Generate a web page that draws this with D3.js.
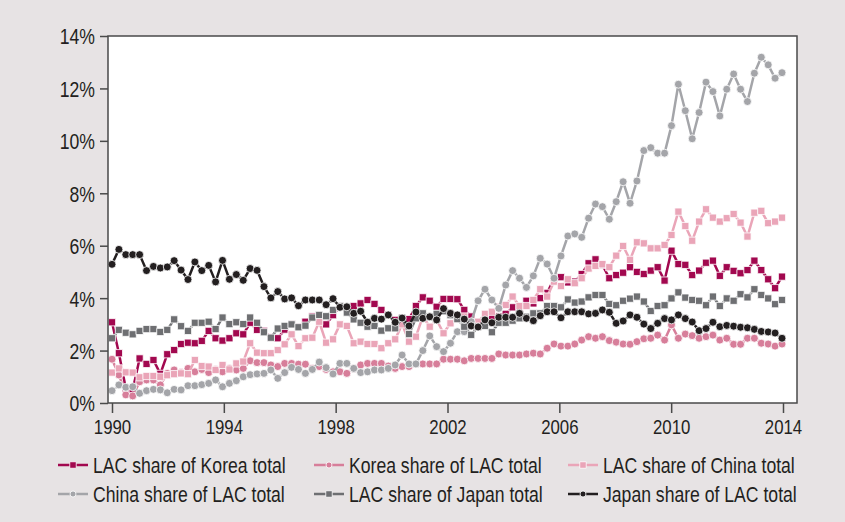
<!DOCTYPE html>
<meta charset="utf-8">
<title>LAC trade shares with Korea, China and Japan</title>
<script src="https://cdn.jsdelivr.net/npm/d3@7"></script>
<style>
  body { margin: 0; background: #e7e3e4; }
  svg text { font-family: 'Liberation Sans', Arial, sans-serif; fill: #231f20; }
</style>
<body>
<svg class=chart></svg>
<script>

var width = 845, height = 522;
var plotLeft = 108, plotRight = 797, plotTop = 36, plotBottom = 403;
var condense = 0.8; // the original uses a condensed face

// quarters, 1990Q1 .. 2014Q2
var quarters = [];
for (var yr = 1990; yr <= 2014; yr++) {
  for (var q = 1; q <= 4; q++) {
    if (yr == 2014 && q > 2) break;
    quarters.push(yr + "Q" + q);
  }
}

var yearTicks = [1990, 1994, 1998, 2002, 2006, 2010, 2014];
var pctTicks = [0, 2, 4, 6, 8, 10, 12, 14];

// values in percent
var lacShareKorea = [3.08,1.90,0.55,0.50,1.70,1.49,1.64,1.11,1.86,2.02,2.25,2.30,2.28,2.37,2.75,2.47,2.38,2.47,2.66,2.62,
  3.06,2.79,2.75,2.50,2.47,2.80,3.00,2.90,3.10,3.30,3.20,3.00,3.35,3.70,3.60,3.70,3.80,3.93,3.78,3.55,
  3.36,3.17,3.23,3.20,3.70,4.03,3.90,3.67,3.97,3.97,3.96,3.55,3.30,3.00,3.10,3.30,3.30,3.40,3.65,3.60,
  3.90,3.80,4.00,4.20,4.74,4.80,4.60,4.63,4.92,5.33,5.48,5.27,4.76,4.88,4.97,5.18,5.00,4.92,5.05,5.18,
  4.67,5.81,5.30,5.27,4.88,5.05,5.35,5.43,4.85,5.18,5.04,4.95,5.07,5.43,5.07,4.72,4.38,4.82];

var koreaShareLac = [1.67,1.07,0.31,0.27,0.81,0.88,0.88,0.69,1.13,1.26,1.16,1.32,1.19,1.28,1.16,1.28,1.19,1.32,1.26,1.32,
  1.61,1.54,1.54,1.45,1.39,1.51,1.51,1.48,1.48,1.32,1.39,1.28,1.19,1.19,1.13,1.32,1.45,1.51,1.51,1.51,
  1.41,1.32,1.39,1.39,1.49,1.49,1.49,1.49,1.67,1.67,1.67,1.61,1.70,1.70,1.70,1.70,1.87,1.83,1.83,1.83,
  1.87,1.90,1.87,2.09,2.25,2.17,2.17,2.25,2.40,2.53,2.47,2.53,2.38,2.32,2.25,2.24,2.34,2.45,2.47,2.59,
  2.40,2.98,2.47,2.63,2.57,2.47,2.53,2.59,2.40,2.47,2.24,2.24,2.47,2.47,2.28,2.25,2.17,2.25];

var lacShareChina = [1.16,1.32,1.17,1.16,0.98,1.03,1.03,1.00,1.06,1.10,1.13,1.10,1.64,1.41,1.39,1.26,1.45,1.28,1.51,1.58,
  2.28,1.92,1.90,1.90,2.02,2.24,2.62,2.17,2.47,2.49,3.10,2.30,2.43,3.00,2.94,2.28,2.34,2.25,2.25,2.09,
  2.28,2.43,3.00,2.34,2.53,3.30,2.91,3.17,2.66,3.04,3.20,3.30,3.00,3.10,3.40,3.48,3.67,3.74,4.06,3.70,
  3.70,3.93,4.34,4.06,4.63,4.46,4.72,4.57,4.76,5.13,5.23,5.30,5.18,5.62,5.99,5.46,6.13,6.09,5.90,5.90,
  6.03,6.41,7.30,6.75,6.19,6.92,7.39,7.07,6.92,7.05,7.21,6.88,6.35,7.26,7.33,6.86,6.92,7.07];

var chinaShareLac = [0.47,0.69,0.60,0.62,0.37,0.47,0.52,0.50,0.39,0.52,0.50,0.66,0.66,0.70,0.75,0.88,0.62,0.75,0.85,1.00,
  1.08,1.11,1.13,1.26,0.94,1.16,1.36,1.28,1.13,1.28,1.56,1.35,1.11,1.51,1.51,1.32,1.16,1.19,1.26,1.26,
  1.32,1.45,1.83,1.49,1.49,2.00,2.56,2.15,1.96,2.28,2.72,2.72,3.10,3.90,4.34,3.93,3.61,4.50,5.05,4.76,
  4.41,4.85,5.52,5.30,4.76,5.61,6.37,6.45,6.32,7.05,7.59,7.49,7.01,7.68,8.44,7.62,8.47,9.63,9.74,9.53,
  9.53,10.58,12.16,11.15,10.08,11.08,12.24,11.88,10.95,11.97,12.55,11.97,11.50,12.58,13.19,12.90,12.39,12.60];

var lacShareJapan = [2.47,2.79,2.68,2.62,2.75,2.82,2.82,2.71,2.79,3.19,2.93,2.75,3.06,3.06,3.10,2.82,3.26,3.01,3.08,3.01,
  3.26,3.06,2.70,2.49,2.84,2.94,3.00,2.89,2.95,3.26,3.36,3.31,3.55,3.70,3.45,3.19,3.06,2.91,2.94,2.76,
  2.85,2.85,3.25,2.63,3.23,3.42,3.30,3.40,3.50,3.35,3.20,2.91,2.60,2.91,2.94,2.70,3.06,3.06,3.14,3.23,
  3.29,3.42,3.42,3.70,3.70,3.65,3.95,3.83,3.87,4.03,4.12,4.12,3.78,3.73,3.90,3.98,4.06,3.87,3.51,3.70,
  3.73,3.99,4.22,4.02,3.93,3.90,3.73,4.06,3.70,3.99,3.90,4.15,4.03,4.34,4.12,3.99,3.77,3.93];

var japanShareLac = [5.29,5.86,5.66,5.66,5.66,5.05,5.21,5.15,5.19,5.43,5.07,4.71,5.38,5.05,5.25,4.62,5.44,4.72,4.90,4.68,
  5.13,5.06,4.44,4.01,4.25,3.97,4.01,3.71,3.93,3.93,3.93,3.75,3.98,3.65,3.67,3.42,3.50,3.08,3.23,3.20,
  3.36,3.08,3.24,2.94,3.47,3.23,3.29,3.17,3.60,3.42,3.36,3.20,2.94,2.90,3.17,3.06,3.27,3.27,3.27,3.42,
  3.23,3.14,3.33,3.48,3.48,3.25,3.48,3.48,3.48,3.40,3.42,3.55,3.46,3.04,3.13,3.36,3.27,3.01,2.84,3.04,
  3.22,3.17,3.36,3.22,3.09,2.76,2.84,3.08,2.91,2.96,2.93,2.89,2.87,2.81,2.73,2.71,2.67,2.47];

var seriesNames = ["LAC share of Korea total", "Korea share of LAC total", "LAC share of China total",
                   "China share of LAC total", "LAC share of Japan total", "Japan share of LAC total"];
var seriesValues = [lacShareKorea, koreaShareLac, lacShareChina, chinaShareLac, lacShareJapan, japanShareLac];
var seriesColors = ["#a2084f", "#d77e9a", "#eaa5b8", "#a4a5a9", "#6e6f72", "#231f20"];
var seriesSymbols = ["square", "circle", "square", "circle", "square", "circle"];

var series = seriesNames.map(function(name, i) {
  return {
    name: name,
    color: seriesColors[i],
    symbol: seriesSymbols[i],
    values: seriesValues[i].map(function(v, j) { return {q: quarters[j], v: v}; })
  };
});

function squeeze(sel) {
  sel.each(function() {
    var len = this.getComputedTextLength();
    d3.select(this)
      .attr("textLength", len * condense)
      .attr("lengthAdjust", "spacingAndGlyphs");
  });
}

var svg = d3.select(".chart")
  .attr("width", width)
  .attr("height", height);

svg.append("rect")
  .attr("width", width)
  .attr("height", height)
  .attr("fill", "#e7e3e4");

var x = d3.scalePoint().domain(quarters).range([plotLeft + 4, plotRight - 15]);
var xYear = d3.scaleLinear().domain([1990, 2014]).range([plotLeft + 4, plotRight - 14]);
var y = d3.scaleLinear().domain([0, 14]).range([plotBottom, plotTop]);

svg.append("rect")
  .attr("x", plotLeft)
  .attr("y", plotTop)
  .attr("width", plotRight - plotLeft)
  .attr("height", plotBottom - plotTop)
  .attr("fill", "white");

// y axis
var yAxis = svg.append("g")
  .attr("transform", "translate(" + plotLeft + ",0)")
  .call(d3.axisLeft(y).tickValues(pctTicks).tickSize(8).tickPadding(5)
    .tickFormat(function(d) { return d + "%"; }));
yAxis.select(".domain").remove();
yAxis.selectAll("line").attr("stroke", "#4a4a4a").attr("stroke-width", 1.5);
yAxis.selectAll("text").style("font-size", "22px").attr("dy", "0.36em").call(squeeze);

// x axis
var xAxis = svg.append("g")
  .attr("transform", "translate(0," + plotBottom + ")")
  .call(d3.axisBottom(xYear).tickValues(yearTicks).tickSize(10).tickPadding(6)
    .tickFormat(d3.format("d")));
xAxis.select(".domain").remove();
xAxis.selectAll("line").attr("stroke", "#4a4a4a").attr("stroke-width", 1.5);
xAxis.selectAll("text").style("font-size", "21px").call(squeeze);

var symSquare = d3.symbol().type(d3.symbolSquare).size(52);
var symCircle = d3.symbol().type(d3.symbolCircle).size(50);

var line = d3.line()
  .x(function(d) { return x(d.q); })
  .y(function(d) { return y(d.v); });

var groups = svg.selectAll(".series")
  .data(series)
  .enter().append("g")
  .attr("class", "series");

groups.append("path")
  .attr("d", function(d) { return line(d.values); })
  .attr("fill", "none")
  .attr("stroke", function(d) { return d.color; })
  .attr("stroke-width", 2.5)
  .attr("stroke-linejoin", "round");

groups.each(function(s) {
  d3.select(this).selectAll(".pt")
    .data(s.values)
    .enter().append("path")
    .attr("class", "pt")
    .attr("transform", function(d) { return "translate(" + x(d.q) + "," + y(d.v) + ")"; })
    .attr("d", s.symbol == "square" ? symSquare : symCircle)
    .attr("fill", s.color)
    .attr("stroke", "white")
    .attr("stroke-width", 0.8);
});

// frame
svg.append("rect")
  .attr("x", plotLeft)
  .attr("y", plotTop)
  .attr("width", plotRight - plotLeft)
  .attr("height", plotBottom - plotTop)
  .attr("fill", "none")
  .attr("stroke", "#4a4a4a")
  .attr("stroke-width", 1.5);

// legend
var legendCols = [58, 314, 568];
var legendRows = [465, 494];

var legend = svg.selectAll(".legend")
  .data(series)
  .enter().append("g")
  .attr("class", "legend")
  .attr("transform", function(d, i) {
    return "translate(" + legendCols[i % 3] + "," + legendRows[Math.floor(i / 3)] + ")";
  });

legend.append("line")
  .attr("x1", 0).attr("x2", 30)
  .attr("stroke", function(d) { return d.color; })
  .attr("stroke-width", 2.5);

legend.append("path")
  .attr("transform", "translate(15,0)")
  .attr("d", function(d) {
    return d.symbol == "square" ? d3.symbol().type(d3.symbolSquare).size(42)() : d3.symbol().type(d3.symbolCircle).size(28)();
  })
  .attr("fill", function(d) { return d.color; })
  .attr("stroke", "white")
  .attr("stroke-width", 0.8);

legend.append("text")
  .attr("x", 35)
  .attr("dy", "0.36em")
  .style("font-size", "22px")
  .text(function(d) { return d.name; })
  .call(squeeze);

</script>
</body>
